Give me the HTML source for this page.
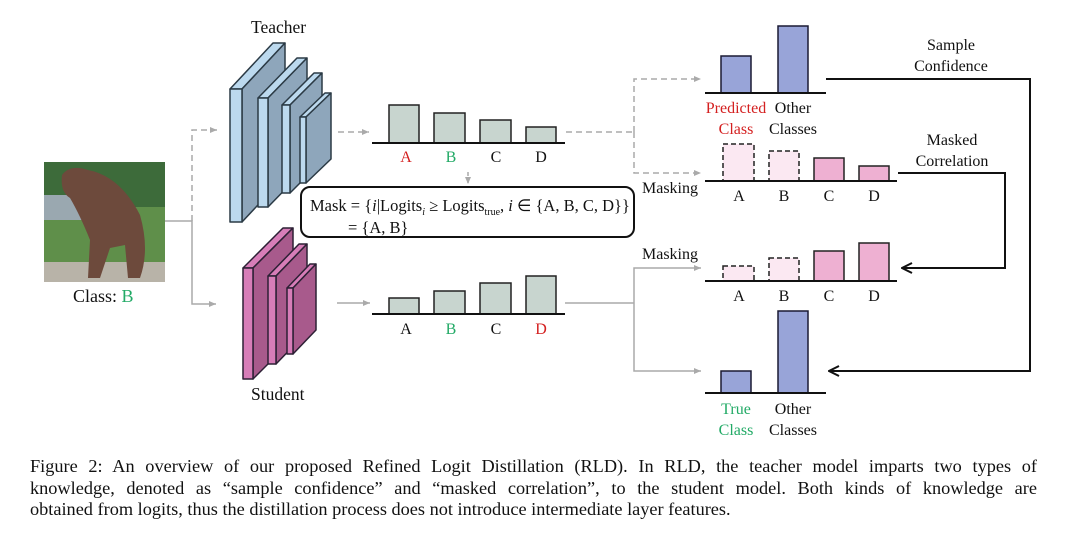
<!DOCTYPE html>
<html><head><meta charset="utf-8"><style>
html,body{margin:0;padding:0;background:#fff;width:1080px;height:543px;overflow:hidden}
svg{position:absolute;left:0;top:0}
.cap{position:absolute;left:30px;width:1007px;font-family:"Liberation Serif",serif;font-size:18.3px;line-height:21px;color:#111;white-space:nowrap}
.j{text-align:justify;text-align-last:justify}
</style></head><body>
<svg width="1080" height="543" viewBox="0 0 1080 543" font-family="Liberation Serif, serif" fill="#111">
<defs>
<marker id="ag" markerWidth="8" markerHeight="8" refX="7" refY="4" orient="auto" markerUnits="userSpaceOnUse"><path d="M0,1 L7,4 L0,7 Z" fill="#aaa"/></marker>
<marker id="ak" markerWidth="12" markerHeight="12" refX="11" refY="6" orient="auto" markerUnits="userSpaceOnUse"><path d="M1,1 L11,6 L1,11" fill="none" stroke="#111" stroke-width="2"/></marker>
</defs>
<rect x="44" y="162" width="121" height="120" fill="#5f8f4a"/>
<rect x="44" y="162" width="121" height="45" fill="#3d6b3a"/>
<rect x="44" y="195" width="40" height="25" fill="#9aa8b0"/>
<rect x="44" y="262" width="121" height="20" fill="#b8b3a8"/>
<path d="M62,175 Q70,164 88,170 Q120,176 140,215 Q150,250 140,278 L128,278 L125,245 L110,248 L100,278 L88,278 L90,240 Q80,215 70,198 Q60,192 62,175 Z" fill="#6d4a3c"/>
<text x="73" y="302" font-size="18">Class: <tspan fill="#22aa66">B</tspan></text>
<path d="M165,221 H192 V304 H216" fill="none" stroke="#aaa" stroke-width="1.5" marker-end="url(#ag)"/>
<path d="M192,221 V130 H217" fill="none" stroke="#aaa" stroke-width="1.5" stroke-dasharray="6,4" marker-end="url(#ag)"/>
<text x="251" y="33" font-size="17.5">Teacher</text>
<g stroke="#2b3a45" stroke-width="1.5" stroke-linejoin="round">
<polygon points="230,89 242,89 285,43 273,43" fill="#bcd9ee"/><polygon points="242,89 285,43 285,176 242,222" fill="#8ea6bb"/><rect x="230" y="89" width="12" height="133" fill="#bcd9ee"/>
<polygon points="258,98 268,98 307,58 297,58" fill="#bcd9ee"/><polygon points="268,98 307,58 307,167 268,207" fill="#8ea6bb"/><rect x="258" y="98" width="10" height="109" fill="#bcd9ee"/>
<polygon points="282,105 290,105 322,73 314,73" fill="#bcd9ee"/><polygon points="290,105 322,73 322,161 290,193" fill="#8ea6bb"/><rect x="282" y="105" width="8" height="88" fill="#bcd9ee"/>
<polygon points="300,117 306,117 331,93 325,93" fill="#bcd9ee"/><polygon points="306,117 331,93 331,159 306,183" fill="#8ea6bb"/><rect x="300" y="117" width="6" height="66" fill="#bcd9ee"/>
</g>
<text x="251" y="400" font-size="17.5">Student</text>
<g stroke="#2d2035" stroke-width="1.5" stroke-linejoin="round">
<polygon points="243,268 253,268 293,228 283,228" fill="#d77db8"/><polygon points="253,268 293,228 293,339 253,379" fill="#a85a8c"/><rect x="243" y="268" width="10" height="111" fill="#d77db8"/>
<polygon points="268,276 276,276 307,244 299,244" fill="#d77db8"/><polygon points="276,276 307,244 307,332 276,364" fill="#a85a8c"/><rect x="268" y="276" width="8" height="88" fill="#d77db8"/>
<polygon points="287,288 293,288 316,264 310,264" fill="#d77db8"/><polygon points="293,288 316,264 316,330 293,354" fill="#a85a8c"/><rect x="287" y="288" width="6" height="66" fill="#d77db8"/>
</g>
<path d="M338,132 H369" stroke="#aaa" stroke-width="1.5" stroke-dasharray="6,4" marker-end="url(#ag)"/>
<g fill="#c8d5cf" stroke="#222" stroke-width="1.5">
<rect x="389" y="105" width="30" height="38"/><rect x="434" y="113" width="31" height="30"/><rect x="480" y="120" width="31" height="23"/><rect x="526" y="127" width="30" height="16"/>
</g>
<line x1="372" y1="143" x2="565" y2="143" stroke="#111" stroke-width="2"/>
<g font-size="16" text-anchor="middle"><text x="406" y="162" fill="#d42020">A</text><text x="451" y="162" fill="#22aa66">B</text><text x="496" y="162">C</text><text x="541" y="162">D</text></g>
<path d="M468,172 V184" stroke="#aaa" stroke-width="1.5" stroke-dasharray="4,3" marker-end="url(#ag)"/>
<rect x="301" y="187" width="333" height="50" rx="9" fill="#fff" stroke="#111" stroke-width="2"/>
<text x="310" y="211" font-size="16.5">Mask = {<tspan font-style="italic">i</tspan>|Logits<tspan font-size="10" dy="4" font-style="italic">i</tspan><tspan dy="-4"> ≥ Logits</tspan><tspan font-size="10" dy="4">true</tspan><tspan dy="-4">, </tspan><tspan font-style="italic">i</tspan> ∈ {A, B, C, D}}</text>
<text x="348" y="233" font-size="16.5">= {A, B}</text>
<path d="M566,132 H634" stroke="#aaa" stroke-width="1.5" stroke-dasharray="6,4" fill="none"/>
<path d="M634,132 V79 H701" stroke="#aaa" stroke-width="1.5" stroke-dasharray="6,4" fill="none" marker-end="url(#ag)"/>
<path d="M634,132 V173 H701" stroke="#aaa" stroke-width="1.5" stroke-dasharray="6,4" fill="none" marker-end="url(#ag)"/>
<path d="M337,303 H370" stroke="#aaa" stroke-width="1.5" marker-end="url(#ag)"/>
<g fill="#c8d5cf" stroke="#222" stroke-width="1.5">
<rect x="389" y="298" width="30" height="16"/><rect x="434" y="291" width="31" height="23"/><rect x="480" y="283" width="31" height="31"/><rect x="526" y="276" width="30" height="38"/>
</g>
<line x1="372" y1="314" x2="565" y2="314" stroke="#111" stroke-width="2"/>
<g font-size="16" text-anchor="middle"><text x="406" y="334">A</text><text x="451" y="334" fill="#22aa66">B</text><text x="496" y="334">C</text><text x="541" y="334" fill="#d42020">D</text></g>
<path d="M565,303 H634" stroke="#aaa" stroke-width="1.5" fill="none"/>
<path d="M634,303 V268 H701" stroke="#aaa" stroke-width="1.5" fill="none" marker-end="url(#ag)"/>
<path d="M634,303 V371 H701" stroke="#aaa" stroke-width="1.5" fill="none" marker-end="url(#ag)"/>
<g fill="#98a4d8" stroke="#1a1a33" stroke-width="1.5"><rect x="721" y="56" width="30" height="37"/><rect x="778" y="26" width="30" height="67"/></g>
<line x1="705" y1="93" x2="826" y2="93" stroke="#111" stroke-width="2"/>
<g font-size="16" text-anchor="middle"><text x="736" y="113" fill="#d42020">Predicted</text><text x="736" y="134" fill="#d42020">Class</text><text x="793" y="113">Other</text><text x="793" y="134">Classes</text></g>
<text x="951" y="50" font-size="16" text-anchor="middle">Sample</text><text x="951" y="71" font-size="16" text-anchor="middle">Confidence</text>
<path d="M826,79 H1030 V371 H829" fill="none" stroke="#111" stroke-width="2" marker-end="url(#ak)"/>
<text x="642" y="193" font-size="16">Masking</text>
<g stroke="#222" stroke-width="1.5"><rect x="723" y="144" width="31" height="37" fill="#fbe8f2" stroke-dasharray="5,3"/><rect x="769" y="151" width="30" height="30" fill="#fbe8f2" stroke-dasharray="5,3"/><rect x="814" y="158" width="30" height="23" fill="#eeb0d2"/><rect x="859" y="166" width="30" height="15" fill="#eeb0d2"/></g>
<line x1="705" y1="181" x2="897" y2="181" stroke="#111" stroke-width="2"/>
<g font-size="16" text-anchor="middle"><text x="739" y="201">A</text><text x="784" y="201">B</text><text x="829" y="201">C</text><text x="874" y="201">D</text></g>
<text x="952" y="145" font-size="16" text-anchor="middle">Masked</text><text x="952" y="166" font-size="16" text-anchor="middle">Correlation</text>
<path d="M898,173 H1005 V268 H902" fill="none" stroke="#111" stroke-width="2" marker-end="url(#ak)"/>
<text x="642" y="259" font-size="16">Masking</text>
<g stroke="#222" stroke-width="1.5"><rect x="723" y="266" width="31" height="15" fill="#fbe8f2" stroke-dasharray="5,3"/><rect x="769" y="258" width="30" height="23" fill="#fbe8f2" stroke-dasharray="5,3"/><rect x="814" y="251" width="30" height="30" fill="#eeb0d2"/><rect x="859" y="243" width="30" height="38" fill="#eeb0d2"/></g>
<line x1="705" y1="281" x2="897" y2="281" stroke="#111" stroke-width="2"/>
<g font-size="16" text-anchor="middle"><text x="739" y="301">A</text><text x="784" y="301">B</text><text x="829" y="301">C</text><text x="874" y="301">D</text></g>
<g fill="#98a4d8" stroke="#1a1a33" stroke-width="1.5"><rect x="721" y="371" width="30" height="22"/><rect x="778" y="311" width="30" height="82"/></g>
<line x1="705" y1="393" x2="826" y2="393" stroke="#111" stroke-width="2"/>
<g font-size="16" text-anchor="middle"><text x="736" y="414" fill="#22aa66">True</text><text x="736" y="435" fill="#22aa66">Class</text><text x="793" y="414">Other</text><text x="793" y="435">Classes</text></g>
</svg>
<div class="cap j" style="top:456px;word-spacing:2px">Figure 2: An overview of our proposed Refined Logit Distillation (RLD). In RLD, the teacher model imparts two types of</div>
<div class="cap j" style="top:478px">knowledge, denoted as “sample confidence” and “masked correlation”, to the student model. Both kinds of knowledge are</div>
<div class="cap" style="top:499px">obtained from logits, thus the distillation process does not introduce intermediate layer features.</div>
</body></html>
